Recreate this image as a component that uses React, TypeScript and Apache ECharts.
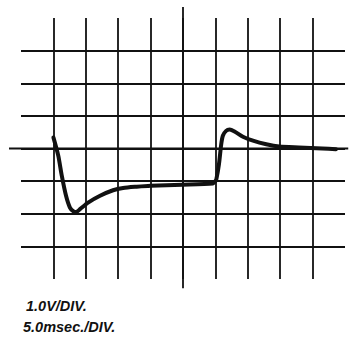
import React, { useEffect, useRef } from "react";
import * as echarts from "echarts";

// Time in divisions (5.0 ms/div) and voltage in divisions (1.0 V/div)
const timeDiv = [0, 0.15, 0.26, 0.39, 0.51, 0.62, 0.7, 0.82, 1.07, 1.44, 1.84, 2.15, 2.57, 3.0, 3.98, 4.92, 5.0, 5.03, 5.11, 5.18, 5.23, 5.33, 5.44, 5.59, 5.85, 6.16, 6.57, 6.97, 7.58, 8.3, 8.72];
const volts = [0.34, -0.22, -0.84, -1.45, -1.81, -1.93, -1.95, -1.86, -1.66, -1.45, -1.28, -1.21, -1.17, -1.14, -1.11, -1.07, -1.0, -0.94, -0.48, 0.13, 0.39, 0.54, 0.58, 0.52, 0.36, 0.24, 0.13, 0.06, 0.03, 0.0, -0.02];

const xRange = [-1, 9];
const yRange = [-4, 4];
const captions = ["1.0V/DIV.", "5.0msec./DIV."];

export default function App() {
  const ref = useRef<HTMLDivElement>(null);
  useEffect(() => {
    if (!ref.current) return;
    const chart = echarts.init(ref.current, null, { renderer: "svg" });
    const ink = "#111";
    const gridLine = { show: true, showMinLine: false, showMaxLine: false, lineStyle: { color: ink, width: 1.8 } };
    chart.setOption({
      animation: false,
      backgroundColor: "#fff",
      grid: { left: 21, right: 4, top: 18, bottom: 59 },
      xAxis: {
        type: "value", min: xRange[0], max: xRange[1], interval: 1,
        axisLine: { show: false }, axisTick: { show: false }, axisLabel: { show: false },
        splitLine: gridLine,
      },
      yAxis: {
        type: "value", min: yRange[0], max: yRange[1], interval: 1,
        axisLine: { show: false }, axisTick: { show: false }, axisLabel: { show: false },
        splitLine: gridLine,
      },
      series: [
        {
          type: "line",
          data: timeDiv.map((t, i) => [t, volts[i]]),
          showSymbol: false,
          smooth: 0.25,
          clip: false,
          lineStyle: { color: ink, width: 4, cap: "round", join: "round" },
        },
      ],
    });
    const p = (x: number, y: number) => chart.convertToPixel({ gridIndex: 0 }, [x, y]) as number[];
    const vTop = p(4, 4.34), vBot = p(4, -4.28);
    const hL = p(-1.37, 0), hR = p(9.1, 0);
    const font = "italic bold 14.5px 'Liberation Sans'";
    chart.setOption({
      graphic: [
        { type: "line", shape: { x1: vTop[0], y1: vTop[1], x2: vBot[0], y2: vBot[1] }, style: { stroke: ink, lineWidth: 1.8 } },
        { type: "line", shape: { x1: hL[0], y1: hL[1], x2: hR[0], y2: hR[1] }, style: { stroke: ink, lineWidth: 1.8 } },
        { type: "text", x: 26, y: 306, style: { text: captions[0], fill: ink, font, verticalAlign: "middle" } },
        { type: "text", x: 23, y: 326.5, style: { text: captions[1], fill: ink, font, verticalAlign: "middle" } },
      ],
    });
    return () => chart.dispose();
  }, []);
  return <div ref={ref} style={{ position: "fixed", left: 0, top: 0, width: 349, height: 338 }} />;
}
